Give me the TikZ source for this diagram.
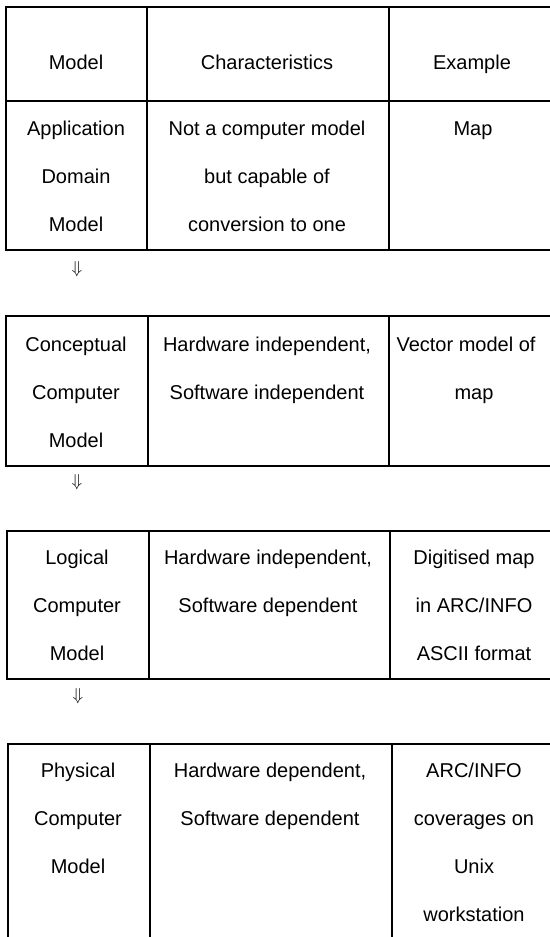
\documentclass[tikz,border=0pt]{standalone}
\usepackage{fontspec}
\setmainfont{Liberation Sans}
% centred lines whose baseline is that of the first line
\newcommand{\celllines}[1]{\begin{tabular}[t]{@{}c@{}}#1\end{tabular}}
\begin{document}
\begin{tikzpicture}[x=1pt,y=-1pt,
  rule/.style={line width=1.5pt,line cap=rect},
  cell/.style={anchor=base,inner sep=0pt,
    font=\fontsize{20}{48}\selectfont},
  flow/.style={inner sep=0pt,font=\fontsize{18}{18}\selectfont}]
\useasboundingbox (0,0) rectangle (549,937);

% --- table 1: header row and application domain model ---
\draw[rule] (549,7) -- (6,7) -- (6,250) -- (549,250);
\draw[rule] (6,101) -- (549,101);
\draw[rule] (147,7) -- (147,250);
\draw[rule] (389,7) -- (389,250);
\node[cell] (hmodel) at (76,69) {Model};
\node[cell] (hchar) at (267,69) {Characteristics};
\node[cell] (hex) at (472,69) {Example};
\node[cell] (m1) at (76,135) {\celllines{Application\\Domain\\Model}};
\node[cell] (c1) at (267,135) {\celllines{Not a computer model\\but capable of\\conversion to one}};
\node[cell] (e1) at (473,135) {Map};

\node[flow] (a1) at (77,269) {$\Downarrow$};

% --- table 2: conceptual computer model ---
\draw[rule] (549,316) -- (6,316) -- (6,466) -- (549,466);
\draw[rule] (148,316) -- (148,466);
\draw[rule] (389,316) -- (389,466);
\node[cell] (m2) at (76,351) {\celllines{Conceptual\\Computer\\Model}};
\node[cell] (c2) at (267,351) {\celllines{Hardware independent,\\Software independent}};
\node[cell] (e2) at (466,351) {\celllines{Vector model of\\\hspace*{16pt}map}};

\node[flow] (a2) at (77,482) {$\Downarrow$};

% --- table 3: logical computer model ---
\draw[rule] (549,531) -- (7,531) -- (7,679) -- (549,679);
\draw[rule] (149,531) -- (149,679);
\draw[rule] (390,531) -- (390,679);
\node[cell] (m3) at (77,564) {\celllines{Logical\\Computer\\Model}};
\node[cell] (c3) at (268,564) {\celllines{Hardware independent,\\Software dependent}};
\node[cell] (e3) at (474,564) {\celllines{Digitised map\\in ARC/INFO\\ASCII format}};

\node[flow] (a3) at (78,696) {$\Downarrow$};

% --- table 4: physical computer model (runs off the page) ---
\draw[rule] (549,744) -- (8,744) -- (8,940);
\draw[rule] (150,744) -- (150,940);
\draw[rule] (392,744) -- (392,940);
\node[cell] (m4) at (78,777) {\celllines{Physical\\Computer\\Model}};
\node[cell] (c4) at (270,777) {\celllines{Hardware dependent,\\Software dependent}};
\node[cell] (e4) at (474,777) {\celllines{ARC/INFO\\coverages on\\Unix\\workstation}};
\end{tikzpicture}
\end{document}
